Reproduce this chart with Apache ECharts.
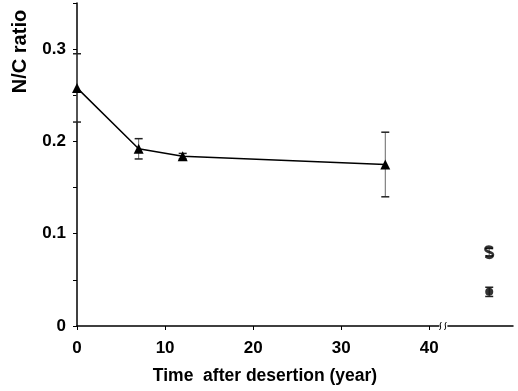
<!DOCTYPE html>
<html>
<head>
<meta charset="utf-8">
<script src="https://cdn.jsdelivr.net/npm/echarts@6/dist/echarts.min.js"></script>
<style>html,body{margin:0;padding:0;background:#fff}#c{width:518px;height:391px}</style>
</head>
<body>
<div id="c"></div>
<script>
// Main series: N/C ratio after desertion
var years = [0, 7, 12, 35];
var ratio = [0.258, 0.192, 0.184, 0.175];
var ratioErr = [0.037, 0.011, 0.003, 0.035];
// Reference points right of the axis break
var refX = 46.8;
var refS = 0.080, refSErr = 0.004;
var refStar = 0.037, refStarErr = 0.005;
var breakAt = 41.6;
var xTicks = [0, 10, 20, 30, 40];
var yTicks = [0, 0.05, 0.1, 0.15, 0.2, 0.25, 0.3, 0.35];
var yLabels = [0, 0.1, 0.2, 0.3];

var FONT = '"Liberation Sans", Arial, sans-serif';
var chart = echarts.init(document.getElementById('c'), null, {renderer: 'canvas'});

var errData = years.map(function (y, i) { return [y, ratio[i] - ratioErr[i], ratio[i] + ratioErr[i]]; });
errData.push([refX, refS - refSErr, refS + refSErr]);
errData.push([refX, refStar - refStarErr, refStar + refStarErr]);

function errRender(params, api) {
  var x = api.value(0);
  var lo = api.coord([x, api.value(1)]);
  var hi = api.coord([x, api.value(2)]);
  var cw = 4;
  return {
    type: 'group',
    children: [
      {type: 'line', shape: {x1: lo[0], y1: lo[1], x2: hi[0], y2: hi[1]}, style: {stroke: '#666', lineWidth: 1}},
      {type: 'line', shape: {x1: lo[0] - cw, y1: lo[1], x2: lo[0] + cw, y2: lo[1]}, style: {stroke: '#222', lineWidth: 1.5}},
      {type: 'line', shape: {x1: hi[0] - cw, y1: hi[1], x2: hi[0] + cw, y2: hi[1]}, style: {stroke: '#222', lineWidth: 1.5}}
    ]
  };
}

function breakRender(params, api) {
  var p = api.coord([api.value(0), 0]);
  var x = p[0], y = p[1];
  return {
    type: 'group',
    children: [
      {type: 'rect', shape: {x: x - 4, y: y - 3, width: 8, height: 6}, style: {fill: '#fff'}},
      {type: 'bezierCurve', shape: {x1: x - 4, y1: y + 4, cpx1: x - 1, cpy1: y + 1, cpx2: x - 5, cpy2: y - 1, x2: x - 2, y2: y - 4}, style: {stroke: '#000', lineWidth: 1, fill: null}},
      {type: 'bezierCurve', shape: {x1: x + 1, y1: y + 4, cpx1: x + 4, cpy1: y + 1, cpx2: x, cpy2: y - 1, x2: x + 3, y2: y - 4}, style: {stroke: '#000', lineWidth: 1, fill: null}}
    ]
  };
}

var sPath = 'path://M8,2 C6,0 2,0 1,2 C0,4 2,5 5,6 C8,7 9,8 8,10 C7,12 3,12 1,10';

chart.setOption({
  animation: false,
  grid: {left: 77, right: 5, top: 3, bottom: 65},
  xAxis: {
    type: 'value', min: 0, max: 49.5, interval: 10,
    name: 'Time  after desertion (year)', nameLocation: 'middle', nameGap: 41,
    nameTextStyle: {fontFamily: FONT, fontWeight: 'bold', fontSize: 17.5, color: '#000', padding: [0, 60, 0, 0]},
    axisLine: {lineStyle: {color: '#000', width: 1.5}},
    axisTick: {show: true, length: 4, lineStyle: {color: '#000'}, customValues: xTicks},
    axisLabel: {fontFamily: FONT, fontWeight: 'bold', fontSize: 17, color: '#000', margin: 14, customValues: xTicks},
    splitLine: {show: false}
  },
  yAxis: {
    type: 'value', min: 0, max: 0.35, interval: 0.05,
    name: 'N/C ratio', nameLocation: 'middle', nameGap: 47, nameRotate: 90,
    nameTextStyle: {fontFamily: FONT, fontWeight: 'bold', fontSize: 20, color: '#000', padding: [0, 0, 0, 226]},
    axisLine: {show: true, lineStyle: {color: '#000', width: 1.5}},
    axisTick: {show: true, length: 4, lineStyle: {color: '#000'}, customValues: yTicks},
    axisLabel: {fontFamily: FONT, fontWeight: 'bold', fontSize: 17, color: '#000', margin: 11, customValues: yLabels,
      formatter: function (v) { return v === 0 ? '0' : v.toFixed(1); }},
    splitLine: {show: false}
  },
  series: [
    {
      type: 'custom', renderItem: errRender, data: errData, z: 1, silent: true
    },
    {
      type: 'line', data: years.map(function (y, i) { return [y, ratio[i]]; }),
      symbol: 'triangle', symbolSize: 10, showSymbol: true,
      lineStyle: {color: '#000', width: 1.5}, itemStyle: {color: '#000'}, z: 3
    },
    {
      type: 'scatter', data: [[refX, refS]], symbol: sPath, symbolSize: [8, 11],
      itemStyle: {color: 'rgba(0,0,0,0)', borderColor: '#000', borderWidth: 2.5}, z: 3
    },
    {
      type: 'scatter', data: [[refX, refStar]], symbol: 'circle', symbolSize: 8,
      itemStyle: {color: '#000'}, z: 3
    },
    {
      type: 'custom', renderItem: breakRender, data: [[breakAt, 0]], z: 5, silent: true, clip: false
    }
  ]
});
</script>
</body>
</html>
